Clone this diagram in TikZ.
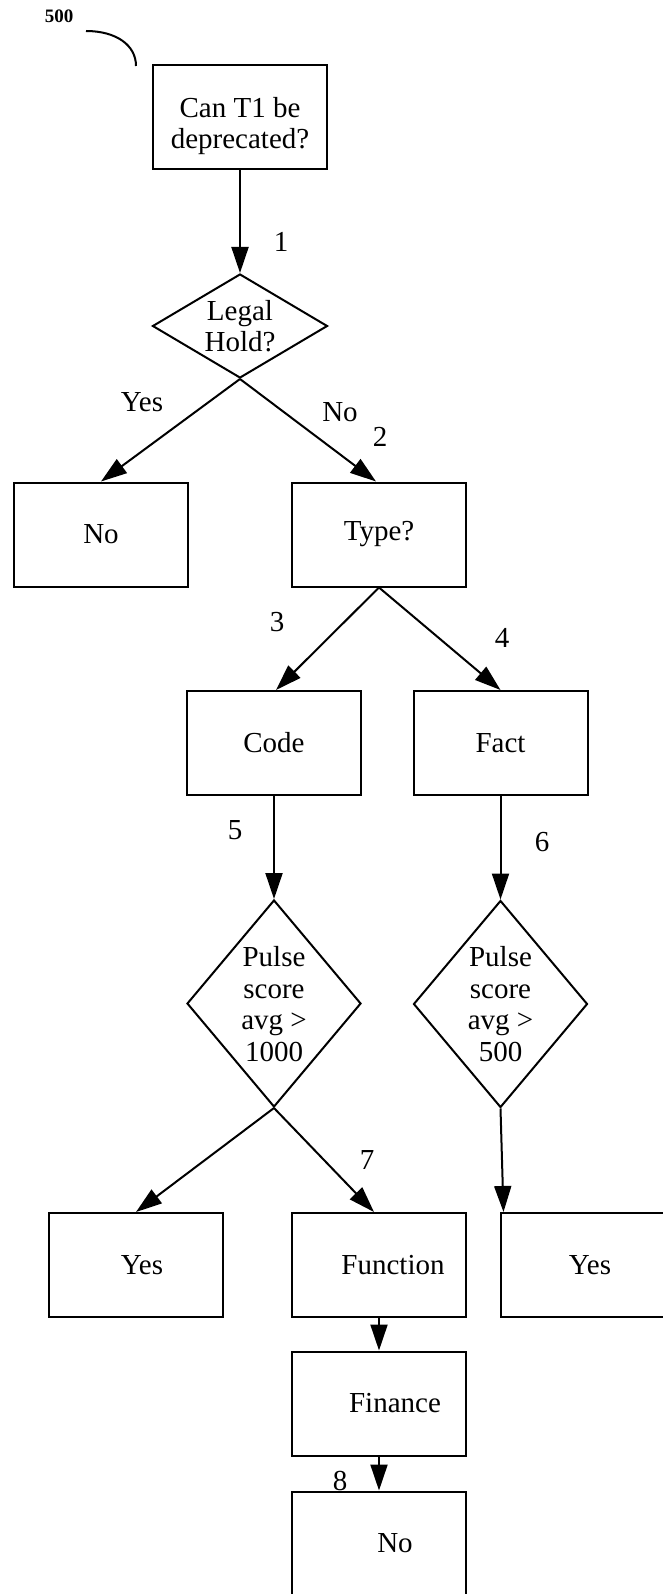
\documentclass[tikz,border=0pt]{standalone}
\usepackage{fontspec}
\setmainfont{Liberation Serif}
\usetikzlibrary{arrows.meta,shapes.geometric,calc}
\begin{document}
\begin{tikzpicture}[x=0.5pt,y=-0.5pt,
  every node/.style={font=\fontsize{14.5pt}{15.75pt}\selectfont, inner sep=0pt},
  boxnode/.style={draw, line width=1pt, minimum width=87pt, minimum height=52pt, align=center},
  dnode/.style={draw, diamond, line width=1pt, minimum width=87pt, minimum height=103.5pt},
  dtext/.style={align=center},
  flow/.style={line width=1pt, -{Triangle[length=13pt,width=8.5pt]}},
  lead/.style={line width=1pt}]
\useasboundingbox (0,0) rectangle (663,1594);
\clip (0,0) rectangle (663,1594);

% reference numeral
\node[font=\bfseries\fontsize{9.5pt}{11pt}\selectfont] (n500) at (59,16) {500};
\coordinate (leadA) at (86,31);
\coordinate (leadB) at (136,66);
\draw[lead] (leadA) .. controls (116,31) and (136,45) .. (leadB);

% nodes
\node[boxnode] (start) at (240,117.5) {};
\node[dtext] (startT) at (240,126) {Can T1 be\\deprecated?};
\node[dnode, minimum width=87.5pt, minimum height=52pt] (legal) at (240,326) {};
\node[dtext] (legalT) at (240,326) {Legal\\Hold?};
\node[boxnode] (no1) at (101,534.5) {No};
\node[boxnode] (type) at (379,534.5) {Type?};
\node[boxnode] (code) at (274,743) {Code};
\node[boxnode] (fact) at (500.5,743) {Fact};
\node[dnode] (d2) at (274,1003.5) {};
\node[dtext] (d2T) at (274,1004) {Pulse\\score\\avg >\\1000};
\node[dnode] (d3) at (500.5,1004) {};
\node[dtext] (d3T) at (500.5,1004) {Pulse\\score\\avg >\\500};
\node[boxnode] (yes1) at (136,1265) {\hspace*{6pt}Yes};
\node[boxnode] (func) at (379,1265) {\hspace*{14pt}Function};
\node[boxnode] (yes2) at (588,1265) {\hspace*{2pt}Yes};
\node[boxnode] (fin) at (379,1403.5) {\hspace*{16pt}Finance};
\node[boxnode] (no2) at (379,1543.5) {\hspace*{16pt}No};

% connectors
\draw[flow] (start.south) -- (legal.north);
\draw[flow] (legal.south) -- (no1.north);
\draw[flow] (legal.south) -- ($(type.north)+(-3,0)$);
\draw[flow] (type.south) -- ($(code.north)+(2,0)$);
\draw[flow] (type.south) -- (fact.north);
\draw[flow] (code.south) -- (d2.north);
\draw[flow] (fact.south) -- (d3.north);
\draw[flow] (d2.south) -- (yes1.north);
\draw[flow] (d2.south) -- ($(func.north)+(-5,0)$);
\draw[flow] (d3.south) -- ($(yes2.north west)+(3.5,0)$);
\draw[flow] (func.south) -- (fin.north);
\draw[flow] (fin.south) -- (no2.north);

% labels
\node (l1) at (281,242) {1};
\node (lyes) at (142,402) {Yes};
\node (lno) at (340,412) {No};
\node (l2) at (380,437) {2};
\node (l3) at (277,622) {3};
\node (l4) at (502,638) {4};
\node (l5) at (235,830) {5};
\node (l6) at (542,842) {6};
\node (l7) at (367,1160) {7};
\node (l8) at (340,1481) {8};
\end{tikzpicture}
\end{document}
